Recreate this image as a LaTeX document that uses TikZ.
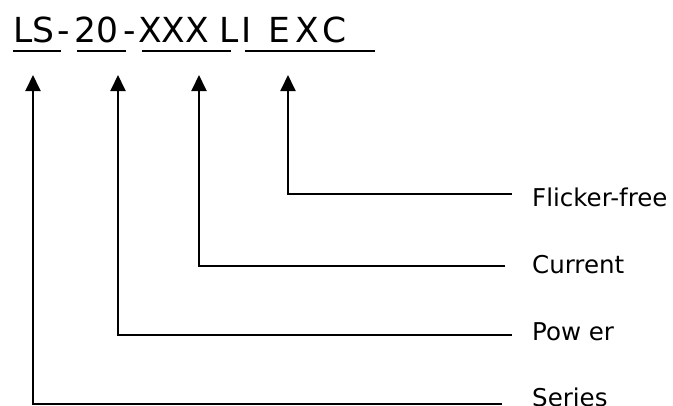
\documentclass[tikz,border=0pt]{standalone}
\usepackage{fontspec}
\setmainfont{DejaVu Sans}
\usetikzlibrary{arrows.meta}
\begin{document}
\begin{tikzpicture}[x=1pt,y=-1pt,
  conn/.style={line width=1.9pt,black},
  arr/.style={conn,-{Triangle[width=15pt,length=16pt]}},
  uline/.style={line width=1.9pt,black},
  lab/.style={anchor=base west,inner sep=0pt,font=\fontsize{24.5}{28}\selectfont},
  ttl/.style={anchor=base west,inner sep=0pt,font=\fontsize{34.5}{40}\selectfont},
]
\useasboundingbox (0,0) rectangle (673,405);
\node[ttl] (tLS) at (13,42) {LS};
\node[ttl] (td1) at (57,42) {-};
\node[ttl] (t20) at (74,42) {20};
\node[ttl] (td2) at (123,42) {-};
\node[ttl] (tXXX) at (138,42) {XXX};
\node[ttl] (tLI) at (219,42) {\addfontfeature{LetterSpace=8}LI};
\node[ttl] (tEXC) at (268,42) {\addfontfeature{LetterSpace=16}EXC};
% underlines
\draw[uline] (13,51) -- (61,51);
\draw[uline] (77,51) -- (126,51);
\draw[uline] (142,51) -- (231,51);
\draw[uline] (245,51) -- (375,51);
% arrow tips
\coordinate (t1) at (33,75);
\coordinate (t2) at (118,75);
\coordinate (t3) at (199,75);
\coordinate (t4) at (288,75);
% corners
\coordinate (c1) at (33,404);
\coordinate (c2) at (118,335);
\coordinate (c3) at (199,266);
\coordinate (c4) at (288,194);
% line ends
\coordinate (e1) at (502,404);
\coordinate (e2) at (512,335);
\coordinate (e3) at (505,266);
\coordinate (e4) at (512,194);
\draw[arr] (e1) -- (c1) -- (t1);
\draw[arr] (e2) -- (c2) -- (t2);
\draw[arr] (e3) -- (c3) -- (t3);
\draw[arr] (e4) -- (c4) -- (t4);
\node[lab] (l4) at (532,206) {Flicker-free};
\node[lab] (l3) at (532,273) {Current};
\node[lab] (l2) at (532,340) {Pow er};
\node[lab] (l1) at (532,406) {Series};
\end{tikzpicture}
\end{document}
